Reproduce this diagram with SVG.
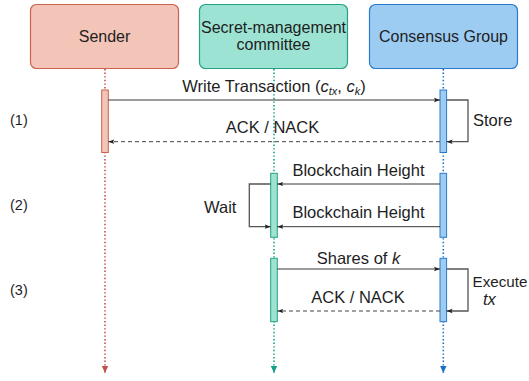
<svg xmlns="http://www.w3.org/2000/svg" width="529" height="381" viewBox="0 0 529 381">
<style>
text{font-family:"Liberation Sans",Arial,sans-serif;fill:#1e1e1e;}
.h{font-size:16px;text-anchor:middle;}
.c{font-size:16.5px;text-anchor:middle;}
.m{font-size:16.5px;}
.n{font-size:14.5px;}
.msg{fill:none;stroke:#222;stroke-width:0.9;}
.dash{fill:none;stroke:#444;stroke-width:1;stroke-dasharray:4 3;}
.loop{fill:none;stroke:#555;stroke-width:1.3;}
.ll{fill:none;stroke-width:1.6;stroke-dasharray:1.4 2.2;}
</style>
<defs>
<marker id="ah" markerUnits="userSpaceOnUse" markerWidth="8" markerHeight="8" refX="6" refY="4" orient="auto">
<path d="M0,1.8 L6,4 L0,6.2 L1.2,4 z" fill="#222"/>
</marker>
<marker id="ahR" markerUnits="userSpaceOnUse" markerWidth="8" markerHeight="10" refX="7" refY="5" orient="auto"><path d="M0,1.8 L7,5 L0,8.2 z" fill="#c0504d"/></marker>
<marker id="ahG" markerUnits="userSpaceOnUse" markerWidth="8" markerHeight="10" refX="7" refY="5" orient="auto"><path d="M0,1.8 L7,5 L0,8.2 z" fill="#15a084"/></marker>
<marker id="ahB" markerUnits="userSpaceOnUse" markerWidth="8" markerHeight="10" refX="7" refY="5" orient="auto"><path d="M0,1.8 L7,5 L0,8.2 z" fill="#1b6fc2"/></marker>
</defs>

<g id="lifelines">
<line class="ll" x1="105" y1="69" x2="105" y2="373" stroke="#c0504d" marker-end="url(#ahR)"/>
<line class="ll" x1="274" y1="69" x2="274" y2="373" stroke="#15a084" marker-end="url(#ahG)"/>
<line class="ll" x1="443.3" y1="69" x2="443.3" y2="373" stroke="#1b6fc2" marker-end="url(#ahB)"/>
</g>

<g id="sender">
<rect x="30.5" y="4.5" width="148" height="64" rx="6" fill="#f3c5b9" stroke="#c9634e" stroke-width="1.2"/>
<text class="h" x="104.5" y="42">Sender</text>
</g>
<g id="secret">
<rect x="199.5" y="4.5" width="148" height="64" rx="6" fill="#9de3d3" stroke="#27a182" stroke-width="1.2"/>
<text class="h" x="273.5" y="33">Secret-management</text>
<text class="h" x="273.5" y="50">committee</text>
</g>
<g id="consensus">
<rect x="369.5" y="4.5" width="148" height="64" rx="6" fill="#9dccf2" stroke="#2a7acb" stroke-width="1.2"/>
<text class="h" x="443.5" y="42">Consensus Group</text>
</g>

<g id="bars">
<rect x="101.7" y="90" width="6.6" height="62.5" fill="#f3c5b9" stroke="#c9634e" stroke-width="1"/>
<rect x="440" y="90" width="6.6" height="62.5" fill="#9dccf2" stroke="#2a7acb" stroke-width="1"/>
<rect x="270.7" y="173.3" width="6.6" height="64" fill="#9de3d3" stroke="#27a182" stroke-width="1"/>
<rect x="440" y="173.3" width="6.6" height="64" fill="#9dccf2" stroke="#2a7acb" stroke-width="1"/>
<rect x="270.7" y="258.3" width="6.6" height="63.4" fill="#9de3d3" stroke="#27a182" stroke-width="1"/>
<rect x="440" y="258.3" width="6.6" height="63.4" fill="#9dccf2" stroke="#2a7acb" stroke-width="1"/>
</g>

<g id="connectors">
<line class="msg" x1="108.3" y1="100" x2="440" y2="100" marker-end="url(#ah)"/>
<path class="loop" d="M446.6,100 H468 V141.7 H446.6" marker-end="url(#ah)"/>
<line class="dash" x1="440" y1="141.7" x2="108.3" y2="141.7" marker-end="url(#ah)"/>
<line class="msg" x1="440" y1="184" x2="277.3" y2="184" marker-end="url(#ah)"/>
<path class="loop" d="M270.7,184 H249.3 V226.7 H270.7" marker-end="url(#ah)"/>
<line class="msg" x1="440" y1="226.7" x2="277.3" y2="226.7" marker-end="url(#ah)"/>
<line class="msg" x1="277.3" y1="269" x2="440" y2="269" marker-end="url(#ah)"/>
<path class="loop" d="M446.6,269 H468 V311 H446.6" marker-end="url(#ah)"/>
<line class="dash" x1="440" y1="311" x2="277.3" y2="311" marker-end="url(#ah)"/>
</g>

<g id="labels">
<text class="c" x="274" y="91.5">Write Transaction (<tspan font-style="italic">c</tspan><tspan font-style="italic" font-size="11" dy="3">tx</tspan><tspan dy="-3">, </tspan><tspan font-style="italic">c</tspan><tspan font-style="italic" font-size="11" dy="3">k</tspan><tspan dy="-3">)</tspan></text>
<text class="c" x="272.5" y="132.5">ACK / NACK</text>
<text class="m" x="473" y="125.5">Store</text>
<text class="c" x="358.5" y="176">Blockchain Height</text>
<text class="c" x="358.5" y="218">Blockchain Height</text>
<text class="m" x="204" y="212.5">Wait</text>
<text class="c" x="358.5" y="264">Shares of <tspan font-style="italic">k</tspan></text>
<text class="c" x="358" y="302.5">ACK / NACK</text>
<text x="472.5" y="287" font-size="15.2">Execute</text>
<text class="m" x="483" y="305" font-style="italic">tx</text>
<text class="n" x="10" y="125">(1)</text>
<text class="n" x="10" y="210">(2)</text>
<text class="n" x="10" y="295">(3)</text>
</g>
</svg>
